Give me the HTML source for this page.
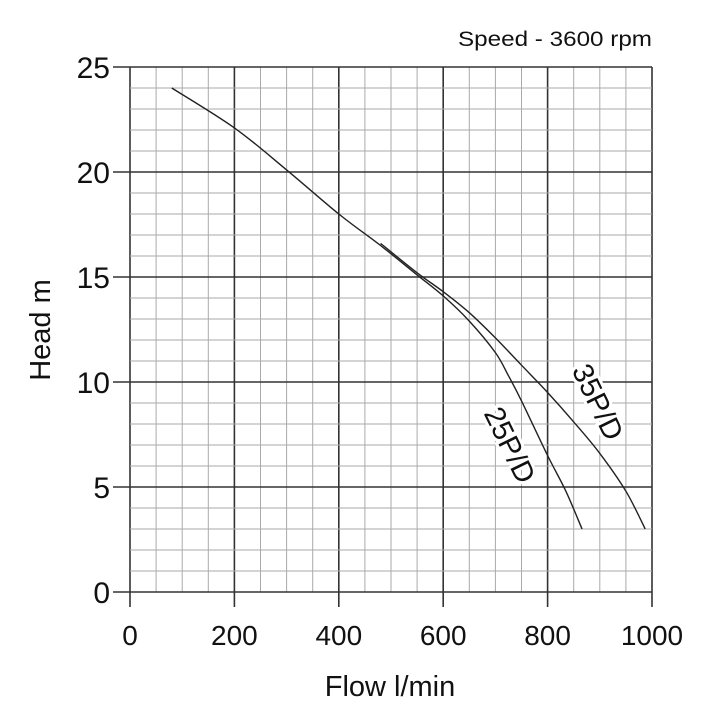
<!DOCTYPE html>
<html><head><meta charset="utf-8"><style>
html,body{margin:0;padding:0;background:#fff;}
svg{display:block;font-family:"Liberation Sans",Arial,sans-serif;}
</style></head><body>
<svg id="chart" width="713" height="714" viewBox="0 0 713 714">
<g id="grid"></g>
<g id="series"></g>
<g id="labels"></g>
<text x="652" y="46" text-anchor="end" font-size="21" textLength="194" lengthAdjust="spacingAndGlyphs" fill="#111">Speed - 3600 rpm</text>
<text x="390" y="696" text-anchor="middle" font-size="29" fill="#111">Flow l/min</text>
<text transform="translate(50,330) rotate(-90)" text-anchor="middle" font-size="29" fill="#111">Head m</text>
</svg>
<script>
const xTicks=[0,200,400,600,800,1000];
const yTicks=[0,5,10,15,20,25];
const flow25=[80,200,300,400,480,550,600,650,700,725,750,800,835,866];
const head25=[24,22.1,20.1,18,16.5,15.1,14.1,12.9,11.4,10.3,9.1,6.5,4.8,3];
const flow35=[480,550,600,650,700,750,800,850,900,950,987];
const head35=[16.6,15.2,14.3,13.3,12.1,10.8,9.5,8.1,6.6,4.8,3];
const X0=130,X1=652,Y0=592,Y1=67;
const sx=v=>X0+(v-0)/1000*(X1-X0);
const sy=v=>Y0-(v-0)/25*(Y0-Y1);
const NS="http://www.w3.org/2000/svg";
function mk(t,a,p){const e=document.createElementNS(NS,t);for(const k in a)e.setAttribute(k,a[k]);p.appendChild(e);return e;}
const grid=document.getElementById('grid');
for(let f=0;f<=1000;f+=50){
 const major=f%200===0;
 const l=mk('line',{x1:sx(f),x2:sx(f),y1:Y1,y2:major?607:Y0,stroke:major?'#333':'#aaa','stroke-width':major?1.6:1},grid);
 
 
}
for(let h=0;h<=25;h+=1){
 const major=h%5===0;
 const l=mk('line',{x1:major?113:X0,x2:X1,y1:sy(h),y2:sy(h),stroke:major?'#333':'#aaa','stroke-width':major?1.6:1},grid);
 
 
}
const labels=document.getElementById('labels');
xTicks.forEach(v=>{
 const t=mk('text',{x:sx(v),y:645,'text-anchor':'middle','font-size':28,fill:'#111'},labels);
 t.textContent=v;
 
 
});
yTicks.forEach(v=>{
 const t=mk('text',{x:110,y:sy(v)+11,'text-anchor':'end','font-size':30,fill:'#111'},labels);
 t.textContent=v;
 
 
});
const series=document.getElementById('series');
function path(fl,hd){
 const p=fl.map((f,i)=>[sx(f),sy(hd[i])]);
 let d='M'+p[0][0]+','+p[0][1];
 for(let i=0;i<p.length-1;i++){
  const a=p[i-1]||p[i],b=p[i],c=p[i+1],e=p[i+2]||c;
  d+=' C'+(b[0]+(c[0]-a[0])/6)+','+(b[1]+(c[1]-a[1])/6)+' '+(c[0]-(e[0]-b[0])/6)+','+(c[1]-(e[1]-b[1])/6)+' '+c[0]+','+c[1];
 }
 return d;
}
const p25=mk('path',{d:path(flow25,head25),fill:'none',stroke:'#222','stroke-width':1.4},series);


const p35=mk('path',{d:path(flow35,head35),fill:'none',stroke:'#222','stroke-width':1.4},series);


function lab(txt,x,y,name){
 const t=mk('text',{x:0,y:10,'text-anchor':'middle','font-size':29,fill:'#111',stroke:'#fff','stroke-width':6,'paint-order':'stroke',transform:'translate('+x+','+y+') rotate(64)'},series);
 t.textContent=txt;
 
 
}
lab('25P/D',510,445,'label-25pd');
lab('35P/D',598,402,'label-35pd');
</script>
</body></html>
